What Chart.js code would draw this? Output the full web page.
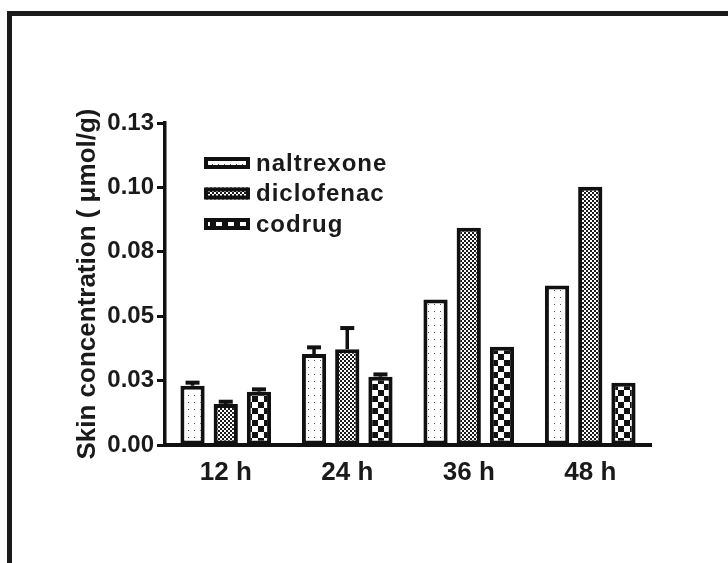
<!DOCTYPE html>
<html>
<head>
<meta charset="utf-8">
<script src="https://cdn.jsdelivr.net/npm/chart.js@4.4.1/dist/chart.umd.min.js"></script>
<style>
  html, body { margin: 0; padding: 0; background: #fff; overflow: hidden; }
  #wrap { position: relative; width: 728px; height: 563px; overflow: hidden; }
  #frame { position: absolute; left: 7px; top: 11px; width: 900px; height: 700px;
           border-top: 5px solid #1a1a1a; border-left: 5px solid #1a1a1a; }
  #c { position: absolute; left: 0; top: 0; }
</style>
</head>
<body>
<div id="wrap">
  <div id="frame"></div>
  <canvas id="c" width="728" height="563"></canvas>
</div>
<script>
// ---- data ----
const categories = ['12 h', '24 h', '36 h', '48 h'];
const seriesNames = ['naltrexone', 'diclofenac', 'codrug'];
const naltrexone = [0.0230, 0.0353, 0.0565, 0.0619];
const diclofenac = [0.0159, 0.0372, 0.0843, 0.1003];
const codrug     = [0.0207, 0.0265, 0.0381, 0.0242];
const naltrexoneErr = [0.0012, 0.0026, 0, 0];
const diclofenacErr = [0.0009, 0.0082, 0, 0];
const codrugErr     = [0.0009, 0.0009, 0, 0];
const yTickLabels = ['0.00', '0.03', '0.05', '0.08', '0.10', '0.13'];
const yTitle = 'Skin concentration ( \u03BCmol/g)';

// ---- patterns ----
function makePattern(w, h, draw) {
  const c = document.createElement('canvas');
  c.width = w; c.height = h;
  const g = c.getContext('2d');
  draw(g);
  return document.getElementById('c').getContext('2d').createPattern(c, 'repeat');
}
const dotPattern = makePattern(6, 7, g => {
  g.fillStyle = '#fff'; g.fillRect(0, 0, 6, 7);
  g.fillStyle = '#555'; g.fillRect(2, 3, 1, 1);
});
const finePattern = makePattern(4, 4, g => {
  g.fillStyle = '#fff'; g.fillRect(0, 0, 4, 4);
  g.fillStyle = '#1a1a1a'; g.fillRect(0, 0, 2, 2); g.fillRect(2, 2, 2, 2);
});
const checkPattern = makePattern(12, 12, g => {
  g.fillStyle = '#fff'; g.fillRect(0, 0, 12, 12);
  g.fillStyle = '#111'; g.fillRect(0, 0, 6, 6); g.fillRect(6, 6, 6, 6);
});
const patterns = [dotPattern, finePattern, checkPattern];
const values = [naltrexone, diclofenac, codrug];
const errors = [naltrexoneErr, diclofenacErr, codrugErr];

const FONT = "'Liberation Sans', Arial, sans-serif";

// ---- error bars plugin ----
const errorBarPlugin = {
  id: 'errorBars',
  afterDatasetsDraw(chart) {
    const ctx = chart.ctx;
    const yScale = chart.scales.y;
    chart.data.datasets.forEach((ds, di) => {
      const meta = chart.getDatasetMeta(di);
      meta.data.forEach((el, i) => {
        const err = ds.errorBars[i];
        if (!err) return;
        const yTop = yScale.getPixelForValue(ds.data[i] + err);
        ctx.save();
        ctx.strokeStyle = '#111';
        ctx.lineWidth = 3.5;
        ctx.beginPath();
        ctx.moveTo(el.x, el.y);
        ctx.lineTo(el.x, yTop);
        ctx.stroke();
        ctx.lineWidth = 4;
        ctx.beginPath();
        ctx.moveTo(el.x - 7, yTop);
        ctx.lineTo(el.x + 7, yTop);
        ctx.stroke();
        ctx.restore();
      });
    });
  }
};

// ---- legend plugin ----
const legendPlugin = {
  id: 'patternLegend',
  afterDraw(chart) {
    const ctx = chart.ctx;
    const bx = 204, bw = 46, bh = 12, y0 = 157, dy = 30.5;
    chart.data.datasets.forEach((ds, di) => {
      const y = y0 + di * dy;
      ctx.save();
      ctx.fillStyle = ds.backgroundColor;
      ctx.fillRect(bx, y, bw, bh);
      ctx.strokeStyle = '#111';
      ctx.lineWidth = 4;
      ctx.strokeRect(bx + 2, y + 2, bw - 4, bh - 4);
      ctx.fillStyle = '#1a1a1a';
      ctx.font = "bold 24px " + FONT;
      if ('letterSpacing' in ctx) ctx.letterSpacing = '1px';
      ctx.textBaseline = 'middle';
      ctx.textAlign = 'left';
      ctx.fillText(ds.label, 256, y + bh / 2 + 1);
      ctx.restore();
    });
  }
};

const datasets = seriesNames.map((name, i) => ({
  label: name,
  data: values[i],
  errorBars: errors[i],
  backgroundColor: patterns[i],
  borderColor: '#111',
  borderWidth: 4,
  borderSkipped: false,
  categoryPercentage: 0.82,
  barPercentage: 0.73
}));

new Chart(document.getElementById('c'), {
  type: 'bar',
  data: { labels: categories, datasets },
  options: {
    responsive: false,
    animation: false,
    layout: { padding: { left: 68, right: 77, top: 123, bottom: 78 } },
    plugins: { legend: { display: false }, tooltip: { enabled: false } },
    scales: {
      x: {
        grid: { display: false },
        border: { display: true, color: '#111', width: 4 },
        ticks: { color: '#1a1a1a', font: { family: FONT, size: 26, weight: 'bold' }, padding: 4 },
        afterFit(s) { s.height = 40; }
      },
      y: {
        min: 0, max: 0.125,
        grid: { display: true, drawOnChartArea: false, drawTicks: true, tickLength: 8, tickWidth: 3, tickColor: '#111' },
        border: { display: true, color: '#111', width: 3.5 },
        ticks: {
          stepSize: 0.025,
          color: '#1a1a1a',
          font: { family: FONT, size: 24, weight: 'bold' },
          padding: 3,
          callback: (v, i) => yTickLabels[i]
        },
        title: {
          display: true,
          text: yTitle,
          color: '#1a1a1a',
          font: { family: FONT, size: 26, weight: 'bold' },
          padding: { top: 4, bottom: 4 }
        },
        afterFit(s) { s.width = 97; }
      }
    }
  },
  plugins: [errorBarPlugin, legendPlugin]
});
</script>
</body>
</html>
